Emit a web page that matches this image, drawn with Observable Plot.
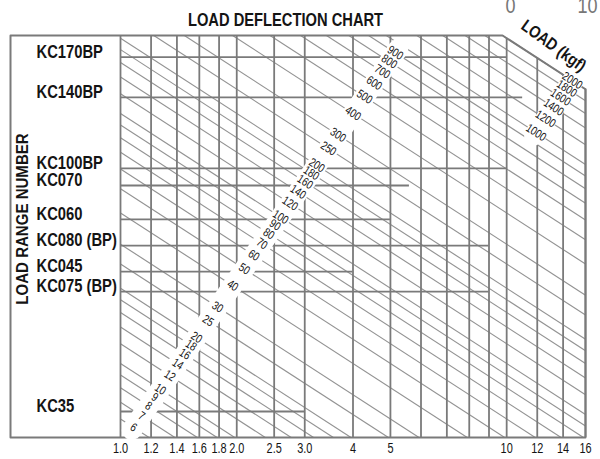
<!DOCTYPE html>
<html><head><meta charset="utf-8">
<script src="https://cdn.jsdelivr.net/npm/d3@7"></script>
<script src="https://cdn.jsdelivr.net/npm/@observablehq/plot@0.6"></script>
<style>
html,body{margin:0;padding:0;background:#fff;}
#chart svg{display:block;}
</style></head><body><div id="chart"></div>
<script>
// ---------- data ----------
const chartTitle = "LOAD DEFLECTION CHART";
const yAxisTitle = "LOAD RANGE NUMBER";
const loadTitle = "LOAD (kgf)";
const cornerMarks = ["0", "10"];

const models = ["KC170BP","KC140BP","KC100BP","KC070","KC060","KC080 (BP)","KC045","KC075 (BP)","KC35"];
const modelRates = [168, 116, 60.3, 51.5, 37.7, 29.6, 23.3, 19.4, 6.43];
const modelMaxDeflection = [10, 11, 10, 5.6, 5, 9, 4, 9, 3];

const xTicks = [1, 1.2, 1.4, 1.6, 1.8, 2, 2.5, 3, 4, 5, 6, 7, 8, 9, 10, 12, 14, 16];
const xTickLabels = ["1.0","1.2","1.4","1.6","1.8","2.0","2.5","3.0","4","5","6","7","8","9","10","12","14","16"];

const loadsLow = [6,7,8,9,10,12,14,16,18,20,25,30,40,50,60,70,80,90,100,120,140,160,180,200,250,300,400,500,600,700,800,900];
const loadsHigh = [1000,1200,1400,1600,1800,2000];

const rateDomain = [5.06, 205];
const deflectionDomain = [1, 16];

// ---------- layout ----------
const W = 600, H = 459, mL = 120, mR = 15, mT = 35, mB = 22;
const FONT = '"Liberation Sans", Arial, Helvetica, sans-serif';
const kMin = rateDomain[0], kMax = rateDomain[1];
const xMin = deflectionDomain[0], xMax = deflectionDomain[1];
const loadMax = d3.max(loadsHigh);
const pxPerDecade = (W - mL - mR) / Math.log10(xMax / xMin);
const xOuter = xMin / Math.pow(10, (mL - 10) / pxPerDecade);
const angle = Math.atan2(250, pxPerDecade) * 180 / Math.PI; // direction of load lines

// label path: power law through the label column
const labelExp = 1 / (1 + 2.21);
const lowC = 4.67, highC = 0.351;
const labelX = (L, C) => Math.pow(L / C, labelExp);
const labelPt = (L, C) => { const x = labelX(L, C); return {L, x, y: L / x}; };

const modelData = models.map((m, i) => ({name: m, rate: modelRates[i], maxDef: modelMaxDeflection[i]}));
const loads = loadsLow.concat(loadsHigh);
const loadLines = loads.map(L => {
  const x1 = Math.max(xMin, L / kMax), x2 = Math.min(xMax, L / kMin);
  return {L, x1, y1: L / x1, x2, y2: L / x2};
});
const framePts = [
  [xOuter, kMin], [xOuter, kMax], [loadMax / kMax, kMax],
  [xMax, loadMax / xMax], [xMax, kMin], [xOuter, kMin]
];
const tickLabel = new Map(xTicks.map((t, i) => [t, xTickLabels[i]]));

const gridColor = "#7a7a7a";
const diagColor = "#939393";
const ink = "#141414";

const chart = Plot.plot({
  width: W, height: H,
  marginLeft: mL, marginRight: mR, marginTop: mT, marginBottom: mB,
  style: {fontFamily: FONT, background: "#fff", color: ink, overflow: "visible"},
  x: {type: "log", domain: deflectionDomain},
  y: {type: "log", domain: rateDomain, axis: null},
  marks: [
    Plot.link(loadLines, {x1: "x1", y1: "y1", x2: "x2", y2: "y2", stroke: diagColor, strokeWidth: 1.15}),
    Plot.ruleX(xTicks, {x: d => d, y1: kMin, y2: d => Math.min(kMax, loadMax / d), stroke: gridColor, strokeWidth: 1.8}),
    Plot.ruleY(modelData, {y: "rate", x1: xMin, x2: "maxDef", stroke: gridColor, strokeWidth: 1.8}),
    Plot.line(framePts, {x: d => d[0], y: d => d[1], stroke: gridColor, strokeWidth: 2}),
    Plot.line([5.8, 950].map(L => labelPt(L, lowC)), {x: "x", y: "y", stroke: "white", strokeWidth: 20}),
    Plot.line([960, 2060].map(L => labelPt(L, highC)), {x: "x", y: "y", stroke: "white", strokeWidth: 20}),
    Plot.text(loadsLow.map(L => labelPt(L, lowC)), {x: "x", y: "y", text: d => String(d.L), rotate: angle,
      fontSize: 12, fill: ink, stroke: "white", strokeWidth: 2}),
    Plot.text(loadsHigh.map(L => labelPt(L, highC)), {x: "x", y: "y", text: d => String(d.L), rotate: angle,
      fontSize: 12, fill: ink, stroke: "white", strokeWidth: 2}),
    Plot.text(modelData, {y: "rate", text: "name", frameAnchor: "left", dx: -84, dy: -5, textAnchor: "start",
      fontSize: 18, fontWeight: "bold", fill: ink}),
    Plot.text([yAxisTitle], {text: d => d, frameAnchor: "left", dx: -98, dy: -17.5, rotate: -90, textAnchor: "middle",
      fontSize: 16, fontWeight: "bold", fill: ink}),
    Plot.text([chartTitle], {text: d => d, frameAnchor: "top-left", dx: 165, dy: -21.5, textAnchor: "middle",
      fontSize: 17.5, fontWeight: "bold", fill: ink}),
    Plot.text([loadTitle], {text: d => d, frameAnchor: "top-left", dx: 437, dy: 5, rotate: 36, textAnchor: "middle",
      fontSize: 17, fontWeight: "bold", fill: ink}),
    Plot.text([cornerMarks[0]], {text: d => d, frameAnchor: "top-left", dx: 390, dy: -38, textAnchor: "middle",
      fontSize: 22, fill: "#777"}),
    Plot.text([cornerMarks[1]], {text: d => d, frameAnchor: "top-left", dx: 467, dy: -38, textAnchor: "middle",
      fontSize: 22, fill: "#777"}),
    Plot.axisX(xTicks, {tickFormat: d => tickLabel.get(d), tickSize: 0, tickPadding: 6, fontSize: 14, fill: ink})
  ]
});
document.getElementById("chart").appendChild(chart);

// condensed look: compress glyphs horizontally, by font size
const squeeze = {"12px": 0.8, "18px": 0.82, "16px": 0.94, "17.5px": 0.84, "17px": 0.84, "22px": 0.82, "14px": 0.78};
chart.querySelectorAll("text").forEach(t => {
  const f = squeeze[getComputedStyle(t).fontSize];
  const len = t.getComputedTextLength();
  if (f && f !== 1 && len > 0) {
    t.setAttribute("textLength", (len * f).toFixed(2));
    t.setAttribute("lengthAdjust", "spacingAndGlyphs");
  }
});
</script></body></html>
